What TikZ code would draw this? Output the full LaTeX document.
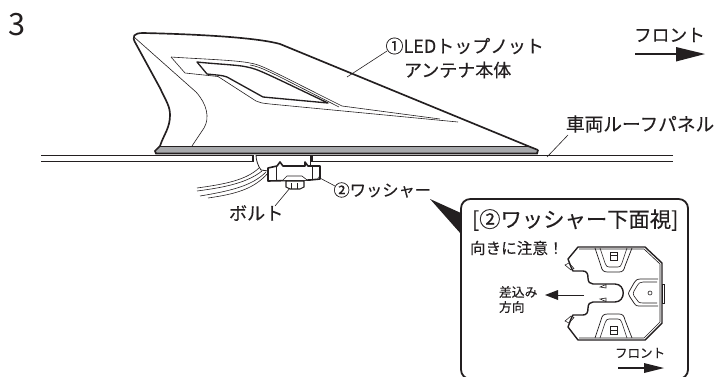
\documentclass[tikz,border=0pt]{standalone}
\usepackage{fontspec}
\setmainfont[FakeBold=0.25]{Noto Sans CJK JP}
\newfontfamily\plainnum{Noto Sans CJK JP}
\definecolor{ink}{HTML}{231F20}
\definecolor{strip}{HTML}{A7A9AC}
\tikzset{
  x=0.75pt,y=-0.75pt,
  thinl/.style={draw=ink,line width=0.45pt},
  midl/.style={draw=ink,line width=0.8pt},
  thickl/.style={draw=ink,line width=1.3pt},
  heavy/.style={draw=ink,line width=1.7pt},
  lab/.style={inner sep=0pt,outer sep=0pt,text=ink,anchor=west},
  mark1/.style={lab,font=\fontsize{13.5pt}{16pt}\selectfont},
  arr/.style={draw=ink,fill=ink,line width=0.1pt},
}
\begin{document}
\begin{tikzpicture}
\useasboundingbox (0,0) rectangle (717,376);
\node[lab,font=\plainnum\fontsize{23pt}{26pt}\selectfont] (num) at (8,25) {3};
% roof panel
\draw[midl,line width=1pt] (41,155.5)--(253,155.5)--(253,161.5)--(41,161.5);
\draw[midl,line width=1pt] (673,155.5)--(312,155.5)--(312,161.5)--(673,161.5);
% fin body
\fill[strip] (160,146)--(528,146)--(538,151)--(537,153)--(155,153)--cycle;
\draw[thickl,line width=1.2pt] (160,146.5)--(528,146.5);
\draw[heavy,line width=1.3pt] (538,150)--(537,153.5)--(156,153.5)--(155,151)--(160,146);
\draw[heavy,line join=round,line width=1.25pt]
  (160,146) .. controls (164,134) and (170,128) .. (170,115)
  .. controls (170,106) and (166,101) .. (160,88)
  -- (136,44)
  .. controls (131,36) and (134,33) .. (143,33)
  .. controls (190,34) and (255,37) .. (280,44)
  -- (528,146) -- (538,150);
\draw[thinl] (134,37) -- (196,92) .. controls (207,104) and (210,118) .. (204,128) -- (192,146);
% window
\draw[thinl] (171,57) .. controls (200,59) and (235,60) .. (250,63)
  .. controls (262,65) and (270,70) .. (342,106);
\draw[thinl] (250,65) .. controls (262,67) and (270,72) .. (339,107);
\draw[thinl] (171,57) -- (185,73) -- (218,76.5) -- (256,101)
  .. controls (260,103) and (262,103) .. (270,104) -- (458,122);
\draw[thinl] (342,106) -- (440,119);
\draw[thickl,line join=round,line width=1pt,fill=white] (197,62) .. controls (215,64) and (240,65) .. (247,67)
  .. controls (258,69) and (265,73) .. (328,103)
  -- (263,97) -- (227,77) .. controls (222,75) and (215,75) .. (207,74) -- cycle;
% leaders top
\node[mark1] (lab1) at (385.5,46) {①LEDトップノット};
\node[mark1] (lab1b) at (404,70) {アンテナ本体};
\coordinate (p1) at (347,77);
\draw[thinl] (p1) -- (387,51);
\node[mark1,font=\fontsize{13.3pt}{16pt}\selectfont] (front) at (634,35) {フロント};
\coordinate (fa) at (635,54);
\coordinate (fb) at (705,54);
\draw[midl,line width=1.4pt] (fa) -- (680,54);
\fill[ink] (fb) -- (676,47) -- (676,61.5) -- cycle;
\node[mark1,font=\fontsize{14pt}{16pt}\selectfont] (roof) at (566,124) {車両ルーフパネル};
\coordinate (r1) at (547,157);
\draw[thinl] (r1) -- (568,135);
% bracket
\draw[thinl] (256,155.5) -- (310,155.5);
\draw[midl,line width=0.6pt] (256,155) .. controls (256,160) and (258,166) .. (261,170) -- (268,171);
\draw[midl,line width=0.6pt] (310,155) -- (310,177);
\draw[thinl] (262,171) .. controls (248,182) and (228,187) .. (197,191);
\draw[thinl] (259,168) .. controls (246,180) and (226,184) .. (197,188);
\draw[thinl] (266,172) .. controls (252,186) and (230,191) .. (200,196);
\draw[thinl] (268,173) .. controls (254,189) and (236,194) .. (208,198);
\draw[heavy,line join=round,line width=1.2pt,fill=white] (268,168)--(277,166)--(280,162)--(283,166)
  --(305,166)--(305,162)--(308,166)--(320,166)--(320,179)--(310,180)--(268,181)--cycle;
\draw[thinl] (276,167)--(276,180);
\draw[thinl] (312,166)--(312,179);
\draw[thinl,fill=white] (283,180)--(287,176)--(302,176)--(307,180);
\draw[midl,fill=white,line width=0.8pt] (286,181) -- (304,181) -- (304,187) -- (300,189) -- (290,189) -- (286,187) -- cycle;
\draw[thinl] (291,183)--(291,189);
\draw[thinl] (297,183)--(297,189);
\node[mark1,font=\fontsize{13.6pt}{16pt}\selectfont] (bolt) at (229,213) {ボルト};
\coordinate (b1) at (290,188);
\draw[thinl] (b1) -- (275,206);
\node[mark1,font=\fontsize{12.2pt}{16pt}\selectfont] (wash) at (333.5,190) {②ワッシャー};
\coordinate (w1) at (318,177);
\draw[thinl] (w1) -- (335,186);
% callout
\begin{scope}
\clip (0,0) rectangle (717,376);
\draw[heavy,line width=1.35pt,rounded corners=7pt] (461,199) rectangle (688,379);
\end{scope}
\fill[ink] (430,199) -- (462,213.5) -- (461,234) -- cycle;
\node[lab,font=\fontsize{16pt}{18pt}\selectfont] (title) at (472,220) {[②ワッシャー下面視]};
\node[lab,font=\fontsize{11.7pt}{14pt}\selectfont] (care) at (470,248) {向きに注意！};
\node[lab,font=\fontsize{9.6pt}{12pt}\selectfont] (ins1) at (499,292) {差込み};
\node[lab,font=\fontsize{9.6pt}{12pt}\selectfont] (ins2) at (499,307) {方向};
\coordinate (d1) at (584,295);
\coordinate (d2) at (545,295);
\draw[thinl,line width=0.7pt] (d1) -- (555,295);
\fill[ink] (d2) -- (558,290) -- (558,300) -- cycle;
% washer
\draw[draw=ink,line width=1.05pt,line join=round] (578,247) -- (645,247) -- (662,263) -- (662,323) -- (645,340) -- (578,340)
  -- (568,327) .. controls (570,322) and (571,318) .. (573,315) -- (583,315)
  .. controls (587,315) and (588,312) .. (588,308)
  .. controls (588,304) and (590,302) .. (593,302) -- (615,302)
  .. controls (626,302) and (626,284) .. (615,284) -- (593,284)
  .. controls (590,284) and (588,282) .. (588,278)
  .. controls (588,274) and (587,271) .. (583,271) -- (573,271)
  .. controls (571,268) and (570,264) .. (568,259) -- cycle;
\draw[thinl] (579,249) -- (644,249) -- (660,264) -- (660,322) -- (644,338) -- (579,338);
\foreach \s/\o in {1/0,-1/586}{
  \begin{scope}[shift={(0,\o)},yscale=\s]
    \draw[thinl,line width=0.55pt] (595,248) -- (601,266) .. controls (602,271) and (604,272) .. (608,272) -- (619,272) .. controls (623,272) and (624,270) .. (625,266) -- (632,248);
    \draw[thinl] (600,248) -- (605,263) .. controls (606,266) and (607,267) .. (609,267) -- (618,267) .. controls (620,267) and (621,266) .. (622,263) -- (627,248);
    \draw[thinl] (610,252) rectangle (617,260);
    \draw[thinl] (610,255.5) -- (617,255.5);
    \draw[thinl] (565,265) -- (569,263) -- (574,268.5) -- (571,270) -- cycle;
    \draw[thinl] (600,287) -- (606,284.5) -- (606,288) -- cycle;
  \end{scope}
}
\draw[thinl,line width=0.55pt] (658,279) -- (641,279) .. controls (637,279) and (636,280) .. (634,283) -- (630,290) .. controls (628,293) and (628,295) .. (630,297) -- (634,303) .. controls (636,306) and (637,306) .. (641,306) -- (658,306);
\draw[thinl] (657,282) -- (643,282) .. controls (640,282) and (639,283) .. (637,286) -- (634,291) .. controls (633,293) and (633,294) .. (634,296) -- (637,300) .. controls (639,303) and (640,303) .. (643,303) -- (657,303);
\draw[thinl] (650,293) circle[radius=2];
\draw[thinl] (662,284) rectangle (664.5,303);
\node[lab,font=\fontsize{9.4pt}{12pt}\selectfont] (front2) at (615,353) {フロント};
\coordinate (g1) at (618,368);
\coordinate (g2) at (664,368);
\draw[midl,line width=1.2pt] (g1) -- (648,368);
\fill[ink] (g2) -- (644,363) -- (644,373) -- cycle;
\end{tikzpicture}
\end{document}
